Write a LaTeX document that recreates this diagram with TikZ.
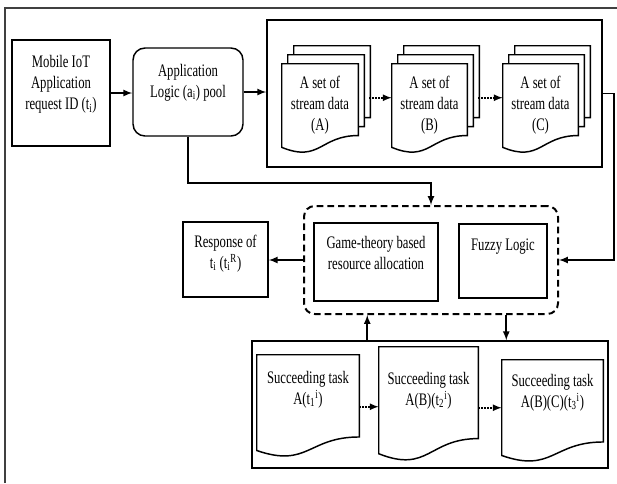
\documentclass[tikz,border=0pt]{standalone}
\usepackage{fontspec}
\setmainfont{Liberation Serif}[FakeStretch=0.72]
\usetikzlibrary{calc}
\usetikzlibrary{arrows}
\usetikzlibrary{backgrounds}

\newdimen\pxu \pxu=0.75pt
% text block: width, height, first baseline (px), text
\newcommand\blk[4]{\parbox[c][#2\pxu][t]{#1\pxu}{\centering\rule{0pt}{#3\pxu}#4}}
% page with wavy bottom behind node #2, pushed back #1 times
\newcommand\docpage[2][0]{%
  \draw[page] ($(#2.north west)+({6*#1},{-9*#1})$) -- ($(#2.north east)+({6*#1},{-9*#1})$)
    -- ($(#2.north east)!0.802!(#2.south east)+({6*#1},{-9*#1})$)
    .. controls ($(#2.north)!0.802!(#2.south)+({6*#1},{-9*#1})$)
    and ($(#2.north)!1.107!(#2.south)+({6*#1},{-9*#1})$)
    .. ($(#2.north west)!0.934!(#2.south west)+({6*#1},{-9*#1})$) -- cycle;}

\begin{document}
\begin{tikzpicture}[x=0.75pt,y=-0.75pt,
    every node/.style={font=\fontsize{13.2}{16}\selectfont},
    box/.style={draw,line width=1.1pt,inner sep=0pt},
    doc/.style={inner sep=0pt},
    page/.style={draw,fill=white,line width=1.1pt},
    arr/.style={-latex,line width=1.3pt},
    dotarr/.style={arr,dash pattern=on 1.2pt off 1pt},
    frame/.style={line width=1.5pt,black!75}]
  % Boundary
  \useasboundingbox (0,0) rectangle (617,483);
  \draw[frame] (5,483) -- (5,8) -- (617,8);
  % Request and pool
  \node[box] (mobile) at (61,93) {\blk{98}{106}{27}{Mobile IoT\\Application\\request ID (t\textsubscript{i})}};
  \node[box,rounded corners=9pt] (app) at (188,92) {\blk{110}{88}{28}{Application\\Logic (a\textsubscript{i}) pool}};
  % Stream data
  \node[box,minimum width=335*\pxu,minimum height=147*\pxu] (streams) at (434.5,93.5) {};
  \node[doc] (docA) at (320,108.5) {\blk{76}{89}{24}{A set of\\stream data\\(A)}};
  \node[doc] (docB) at (429.5,108.5) {\blk{75}{89}{24}{A set of\\stream data\\(B)}};
  \node[doc] (docC) at (540.5,108.5) {\blk{75}{89}{24}{A set of\\stream data\\(C)}};
  % Allocation engine
  \node[box,dash pattern=on 5pt off 3pt,line width=1.5pt,rounded corners=8pt,
        minimum width=254*\pxu,minimum height=108*\pxu] (engine) at (431,260) {};
  \node[box] (game) at (376,262) {\blk{124}{78}{25}{Game-theory based\\resource allocation}};
  \node[box] (fuzzy) at (503,261) {\blk{88}{74}{26}{Fuzzy Logic}};
  \node[box] (response) at (225.5,259.5) {\blk{85}{75}{25}{Response of\\t\textsubscript{i} (t\textsubscript{i}\textsuperscript{R})}};
  % Succeeding tasks
  \node[box,minimum width=356*\pxu,minimum height=127*\pxu] (tasks) at (430,404.5) {};
  \node[doc] (doc1) at (308,406) {\blk{102}{102}{28}{Succeeding task\\A(t\textsubscript{1}\textsuperscript{i})}};
  \node[doc] (doc2) at (428.5,404) {\blk{99}{114}{37}{Succeeding task\\A(B)(t\textsubscript{2}\textsuperscript{i})}};
  \node[doc] (doc3) at (552.5,411) {\blk{101}{102}{26}{Succeeding task\\A(B)(C)(t\textsubscript{3}\textsuperscript{i})}};
  % Pages
  \begin{scope}[on background layer]
    \foreach \d in {docA,docB,docC} {
      \docpage[2]{\d}
      \docpage[1]{\d}
      \docpage{\d}
    }
    \foreach \d in {doc1,doc2,doc3}
      \docpage{\d};
  \end{scope}
  % Connectors
  \draw[arr] (mobile.east) -- (mobile.east -| app.west);
  \draw[arr] (app.east) -- (app.east -| streams.west);
  \draw[dotarr] ($(docA.north east)+(11,34)$) -- ($(docB.north west)+(0,34)$);
  \draw[dotarr] ($(docB.north east)+(11,34)$) -- ($(docC.north west)+(0,34)$);
  \draw[arr] (app.south) -- ++(0,46) -| (engine.north);
  \draw[arr] (streams.east) -- ++(11,0) |- (engine.east);
  \draw[arr] (engine.west) -- (engine.west -| response.east);
  \coordinate (up) at ($(tasks.north west)+(116,0)$);
  \coordinate (down) at ($(tasks.north west)+(255,0)$);
  \draw[arr] (up) -- (up |- engine.south);
  \draw[arr] (down |- engine.south) -- (down);
  \draw[dotarr] ($(doc1.north east)+(0,52)$) -- ($(doc2.north west)+(0,60)$);
  \draw[dotarr] ($(doc2.north east)+(0,61)$) -- ($(doc3.north west)+(0,48)$);
\end{tikzpicture}
\end{document}
